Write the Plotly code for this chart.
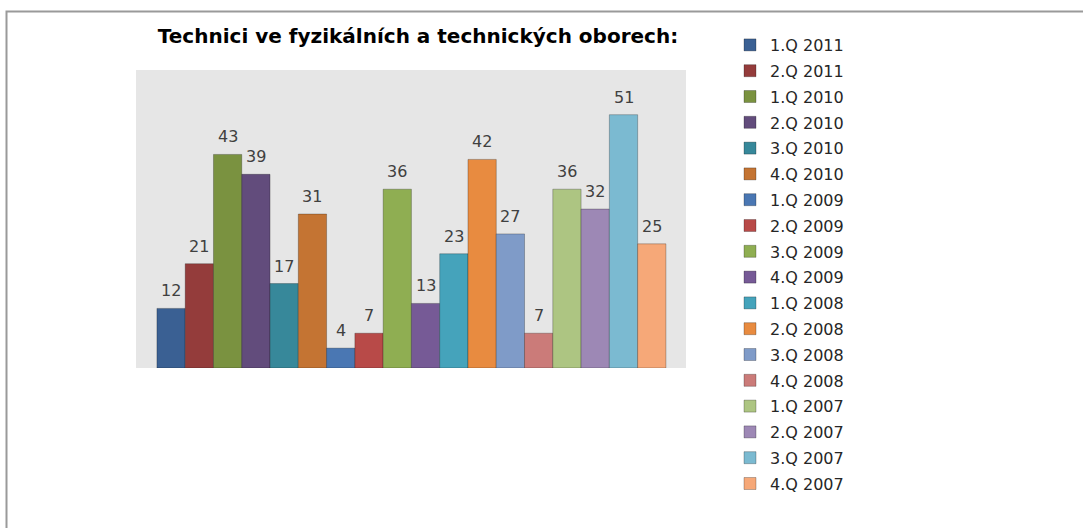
import plotly.graph_objects as go

title_text = "Technici ve fyzikálních a technických oborech:"
series_names = ["1.Q 2011", "2.Q 2011", "1.Q 2010", "2.Q 2010", "3.Q 2010", "4.Q 2010",
                "1.Q 2009", "2.Q 2009", "3.Q 2009", "4.Q 2009", "1.Q 2008", "2.Q 2008",
                "3.Q 2008", "4.Q 2008", "1.Q 2007", "2.Q 2007", "3.Q 2007", "4.Q 2007"]
values = [12, 21, 43, 39, 17, 31, 4, 7, 36, 13, 23, 42, 27, 7, 36, 32, 51, 25]
colors = ["#3A6093", "#943C3B", "#7A9240", "#624C7C", "#37889A", "#C47433",
          "#4A77B3", "#B84A48", "#8FAE52", "#765A96", "#45A3BB", "#E88B40",
          "#7F9BC8", "#CB7B79", "#ADC582", "#9D88B5", "#7BBAD1", "#F6A878"]

W, H = 1083, 528
L, R, T, B = 136, 686, 70, 368

fig = go.Figure()
for i, (name, v, c) in enumerate(zip(series_names, values, colors)):
    fig.add_trace(go.Bar(
        x=[i], y=[v], name=name, width=1.0,
        marker=dict(color=c, line=dict(color="rgba(0,0,0,0.25)", width=1)),
        legendgroup=name, hoverinfo="name+y",
    ))
    fig.add_annotation(x=i, y=v, text=str(v), showarrow=False,
                       yanchor="bottom", yshift=6,
                       font=dict(family="DejaVu Sans", size=16, color="#404040"))

pw = R - L
ph = B - T
fig.add_shape(type="path", xref="paper", yref="paper",
              path=f"M {(6.5-L)/pw} {-(600-B)/ph} L {(6.5-L)/pw} {(B-11.5)/ph} L {(1200-L)/pw} {(B-11.5)/ph}",
              line=dict(color="#9a9a9a", width=2))

fig.update_layout(
    width=W, height=H,
    margin=dict(l=L, r=W - R, t=T, b=H - B, pad=0),
    paper_bgcolor="white", plot_bgcolor="#E6E6E6",
    barmode="overlay",
    title=dict(text=f"<b>{title_text}</b>", x=418 / W, xanchor="center",
               y=1 - 36 / H, yanchor="middle",
               font=dict(family="DejaVu Sans", size=20, color="#000000")),
    xaxis=dict(range=[-1.24, 18.21], visible=False, showgrid=False, zeroline=False),
    yaxis=dict(range=[0, 60], visible=False, showgrid=False, zeroline=False),
    showlegend=True,
    legend=dict(xref="container", yref="container", x=730 / W, y=1 - 28 / H,
                xanchor="left", yanchor="top", tracegroupgap=2, maxheight=520,
                font=dict(family="DejaVu Sans", size=16, color="#262626"),
                bgcolor="rgba(0,0,0,0)"),
)

fig.write_html("out.html", config={"displayModeBar": False},
               post_script="document.body.style.margin='0';")
